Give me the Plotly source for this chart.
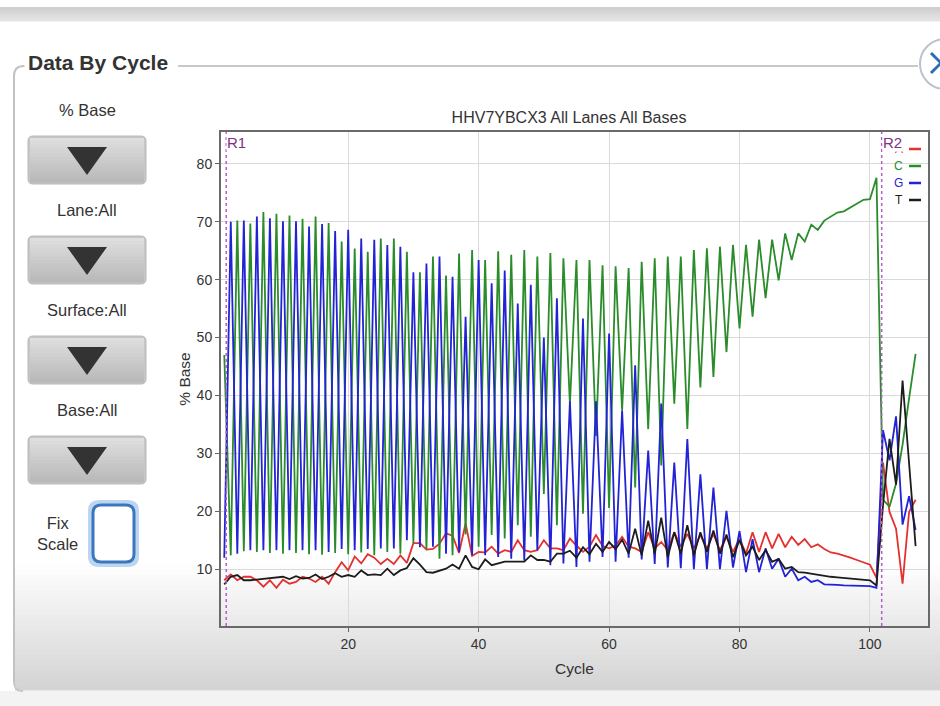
import plotly.graph_objects as go

W, H = 940, 706


def px(x):
    return x / W


def py(y):
    return 1 - y / H


# ---------------- data ----------------
cycles = list(range(1, 108))

base_A = [8.1, 9.1, 8.1, 8.7, 8.7, 8.1, 7.0, 8.1, 6.8, 8.2,
          7.5, 7.8, 8.7, 8.4, 7.8, 8.7, 7.5, 9.5, 11.2, 9.8,
          12.2, 11.0, 12.6, 12.0, 10.9, 11.8, 10.9, 12.4, 11.1, 14.5,
          14.5, 13.4, 13.5, 14.4, 16.2, 15.8, 12.8, 17.9, 12.3, 13.0,
          12.9, 13.9, 12.7, 13.3, 13.0, 15.0, 13.3, 13.0, 13.3, 15.0,
          13.6, 13.6, 13.3, 15.3, 14.1, 13.0, 13.9, 15.9, 14.0, 13.6,
          14.1, 15.6, 13.9, 13.6, 13.0, 16.4, 13.6, 14.7, 13.3, 16.4,
          13.9, 16.1, 13.6, 15.9, 13.6, 16.1, 13.3, 15.6, 13.0, 15.3,
          12.7, 16.4, 13.0, 16.4, 13.6, 16.1, 13.8, 15.6, 14.2, 15.2,
          13.8, 14.3, 13.5, 12.9, 12.7, 12.4, 12.0, 11.6, 11.2, 10.8,
          8.5, 28.4, 19.9, 17.0, 7.5, 19.9, 22.0]

base_C = [47.0, 12.4, 70.2, 13.1, 69.7, 13.0, 71.7, 12.8, 71.4, 12.7,
          71.1, 12.8, 70.5, 12.6, 70.9, 12.5, 69.8, 12.8, 66.6, 12.6,
          65.4, 12.9, 64.8, 12.4, 67.1, 13.0, 67.1, 12.7, 64.8, 14.5,
          61.3, 13.4, 64.0, 11.8, 60.7, 12.4, 64.5, 16.0, 65.1, 13.9,
          63.4, 15.9, 64.9, 15.3, 64.3, 17.6, 65.1, 15.6, 64.0, 23.0,
          64.6, 17.6, 63.7, 38.5, 63.4, 19.6, 63.4, 33.0, 62.5, 20.6,
          62.3, 37.4, 62.0, 24.1, 63.1, 34.2, 63.7, 27.9, 64.0, 38.6,
          64.0, 34.2, 65.1, 41.4, 65.4, 43.2, 65.7, 47.5, 66.0, 51.6,
          66.0, 53.6, 66.9, 56.8, 66.9, 59.9, 68.0, 63.4, 68.0, 66.6,
          69.5, 68.6, 70.2, 70.9, 71.6, 71.8, 72.5, 73.1, 73.8, 73.9,
          77.6, 22.0, 20.8, 24.8, 31.5, 39.5, 47.2]

base_G = [12.0, 70.0, 12.7, 70.2, 13.3, 70.9, 13.3, 70.6, 13.3, 70.1,
          13.3, 70.1, 13.3, 69.2, 13.3, 69.6, 13.0, 68.4, 13.5, 68.6,
          13.3, 67.1, 13.5, 66.9, 13.6, 66.0, 13.6, 65.7, 15.0, 61.3,
          13.8, 62.8, 13.9, 64.0, 12.7, 60.5, 13.0, 53.6, 12.4, 63.4,
          12.4, 59.4, 12.1, 61.6, 11.8, 55.9, 11.5, 59.1, 13.3, 50.0,
          10.7, 56.8, 11.0, 39.0, 10.4, 53.3, 11.3, 39.0, 12.1, 50.7,
          11.3, 37.4, 12.0, 45.2, 11.7, 30.5, 10.9, 38.6, 10.3, 28.4,
          10.2, 32.5, 10.0, 26.4, 10.0, 24.1, 10.0, 20.1, 10.3, 16.6,
          9.5, 15.2, 9.5, 13.6, 10.1, 11.8, 8.7, 10.1, 8.1, 8.7,
          7.8, 8.1, 7.4, 7.4, 7.3, 7.2, 7.2, 7.1, 7.1, 7.1,
          6.8, 34.0, 28.8, 36.4, 17.7, 22.6, 16.8]

base_T = [7.4, 8.7, 9.0, 8.1, 8.1, 8.2, 8.3, 8.4, 8.5, 8.7,
          8.3, 8.8, 8.4, 8.5, 9.1, 8.3, 8.7, 9.3, 8.7, 9.0,
          8.7, 9.8, 9.0, 9.1, 9.0, 10.1, 9.0, 9.8, 10.2, 11.9,
          10.8, 9.5, 9.4, 9.8, 10.1, 10.8, 10.1, 12.4, 10.4, 10.0,
          11.7, 10.7, 11.0, 11.3, 11.3, 11.3, 11.3, 12.4, 11.6, 11.6,
          11.3, 12.7, 12.7, 13.2, 12.0, 13.8, 12.6, 14.4, 13.0, 14.7,
          13.5, 15.1, 12.7, 17.0, 12.4, 18.4, 12.7, 18.9, 12.1, 16.4,
          12.7, 17.6, 12.4, 16.4, 13.0, 16.7, 12.7, 16.0, 12.1, 15.0,
          12.4, 13.9, 11.6, 13.3, 11.3, 11.8, 10.1, 10.4, 9.5, 9.4,
          9.2, 9.0, 8.8, 8.7, 8.6, 8.5, 8.4, 8.3, 8.2, 8.1,
          7.2, 21.0, 32.5, 24.6, 42.6, 28.5, 14.0]

series_names = ["A", "C", "G", "T"]
series_values = [base_A, base_C, base_G, base_T]
series_colors = ["#e3312f", "#2b8c2b", "#2323d6", "#1c1c1c"]

read_marks = [1.3, 101.8]
read_labels = ["R1", "R2"]

x_ticks = [20, 40, 60, 80, 100]
y_ticks = [10, 20, 30, 40, 50, 60, 70, 80]

chart_title = "HHV7YBCX3 All Lanes All Bases"
control_labels = ["% Base", "Lane:All", "Surface:All", "Base:All"]

# ---------------- styling ----------------
FONT = "Liberation Sans, Arial, sans-serif"
TXT = "#333333"

PLOT_L, PLOT_R, PLOT_T, PLOT_B = 221, 928, 132, 626


def hex2rgb(h):
    h = h.lstrip("#")
    return tuple(int(h[i:i + 2], 16) for i in (0, 2, 4))


def mix(c0, c1, t):
    a, b = hex2rgb(c0), hex2rgb(c1)
    return "rgb(%d,%d,%d)" % tuple(round(a[i] + (b[i] - a[i]) * t) for i in range(3))


shapes = []


def rect(x0, y0, x1, y1, fill, layer="below", line_color=None, line_width=0):
    shapes.append(dict(type="rect", xref="paper", yref="paper",
                       x0=px(x0), x1=px(x1), y0=py(y1), y1=py(y0),
                       fillcolor=fill, layer=layer,
                       line=dict(width=line_width, color=line_color or fill)))


def vgrad(x0, y0, x1, y1, c0, c1, n=20, layer="below"):
    step = (y1 - y0) / n
    for i in range(n):
        rect(x0, y0 + i * step, x1, y0 + (i + 1) * step + 0.6,
             mix(c0, c1, i / (n - 1)), layer=layer)


def rrect_path(x0, y0, x1, y1, r):
    return ("M {a},{b} L {c},{b} Q {d},{b} {d},{e} L {d},{f} Q {d},{g} {c},{g} "
            "L {a},{g} Q {h},{g} {h},{f} L {h},{e} Q {h},{b} {a},{b} Z").format(
        a=px(x0 + r), b=py(y0), c=px(x1 - r), d=px(x1), e=py(y0 + r),
        f=py(y1 - r), g=py(y1), h=px(x0))


def path(p, fill=None, line_color=None, line_width=0, layer="below"):
    d = dict(type="path", xref="paper", yref="paper", path=p, layer=layer,
             line=dict(width=line_width, color=line_color or "rgba(0,0,0,0)"))
    if fill:
        d["fillcolor"] = fill
    shapes.append(d)


# top strip
vgrad(0, 7, 940, 21, "#cfcfcf", "#e4e4e4", n=7)
# panel lower gradient
vgrad(15, 560, 940, 690, "#ffffff", "#d4d4d4", n=26)
rect(0, 691, 940, 706, "#f3f3f3")
# panel frame
path("M {},{} L {},{} Q {},{} {},{} L {},{}".format(
    px(14), py(682), px(14), py(76), px(14), py(66), px(24), py(66), px(27), py(66)),
    line_color="#c2c2c2", line_width=2)
path("M {},{} Q {},{} {},{}".format(px(14), py(682), px(14), py(691), px(23), py(691)),
     line_color="#c8c8c8", line_width=2)
path("M {},{} L {},{}".format(px(178), py(66), px(918), py(66)),
     line_color="#c8c8c8", line_width=2)

# close button (partly off-page)
shapes.append(dict(type="circle", xref="paper", yref="paper",
                   x0=px(920), x1=px(970), y0=py(89), y1=py(39),
                   fillcolor="#ffffff", line=dict(color="#b9c3cf", width=2), layer="below"))
path("M {},{} L {},{}".format(px(931), py(53), px(951), py(73)), line_color="#2e6cb3", line_width=3)
path("M {},{} L {},{}".format(px(931), py(73), px(951), py(53)), line_color="#2e6cb3", line_width=3)

# dropdown buttons
for by in [136, 236, 336, 436]:
    path(rrect_path(28, by, 146, by + 48, 5), fill="#c6c6c6", line_color="#bababa", line_width=1)
    vgrad(30, by + 2, 144, by + 46, "#dedede", "#b9b9b9", n=14)
    path("M {},{} L {},{} L {},{} Z".format(px(67), py(by + 11), px(107), py(by + 11),
                                              px(87), py(by + 39)), fill="#333333")

# "Fix Scale" checkbox
path(rrect_path(88, 500, 139, 567, 11), fill="#bcd5f0")
path(rrect_path(93, 505, 134, 562, 8), fill="#ffffff", line_color="#3b77bd", line_width=3)

# read boundary markers
for xm in read_marks:
    shapes.append(dict(type="line", xref="x", yref="paper", x0=xm, x1=xm,
                       y0=py(PLOT_B), y1=py(PLOT_T), layer="above",
                       line=dict(color="#b65cc6", width=1.5, dash="dot")))

annotations = []


def label(x, y, text, size, color=TXT, bold=False, family=FONT, xanchor="center", **kw):
    annotations.append(dict(xref="paper", yref="paper", x=px(x), y=py(y), text=text,
                            showarrow=False, xanchor=xanchor, yanchor="middle",
                            font=dict(family=family, size=size, color=color,
                                      weight="bold" if bold else "normal"),
                            **kw))


label(98, 63, "Data By Cycle", 21, bold=True, bgcolor="#ffffff", borderpad=3)
for i, t in enumerate(control_labels):
    label(87, 110 + 100 * i, t, 16.5)
label(57.5, 533, "Fix<br>Scale", 16.5)

# custom legend (text before swatch)
for i, (nm, col) in enumerate(zip(series_names, series_colors)):
    yy = 149 + 17 * i
    label(905, yy, nm, 12, color=col, xanchor="right")
    path("M {},{} L {},{}".format(px(909), py(yy), px(921), py(yy)),
         line_color=col, line_width=2.5, layer="above")

# R1 / R2 labels
for xm, t in zip(read_marks, read_labels):
    annotations.append(dict(xref="x", yref="paper", x=xm, y=py(143), text=t,
                            showarrow=False, xanchor="left", yanchor="middle",
                            xshift=0, borderpad=0, bgcolor="#ffffff",
                            font=dict(family=FONT, size=15, color="#7e2f88")))

fig = go.Figure()
for nm, vals, col in zip(series_names, series_values, series_colors):
    fig.add_trace(go.Scatter(x=cycles, y=vals, mode="lines", name=nm,
                             line=dict(color=col, width=1.8), showlegend=False))

fig.update_layout(
    width=W, height=H,
    margin=dict(l=0, r=0, t=0, b=0),
    paper_bgcolor="#ffffff", plot_bgcolor="#ffffff",
    shapes=shapes, annotations=annotations,
    title=dict(text=chart_title, x=px(569), y=py(117), xanchor="center", yanchor="middle",
               xref="paper", yref="paper",
               font=dict(family=FONT, size=16, color=TXT)),
    xaxis=dict(domain=[px(PLOT_L), px(PLOT_R)], range=[0.5, 108.9],
               tickvals=x_ticks, ticks="outside", ticklen=4, tickcolor="#666",
               showgrid=True, gridcolor="#dadada", gridwidth=1, zeroline=False,
               showline=True, mirror=True, linecolor="#6a6a6a", linewidth=2,
               tickfont=dict(family=FONT, size=14, color=TXT),
               title=dict(text="Cycle", standoff=12,
                          font=dict(family=FONT, size=15.5, color=TXT)),
               automargin=False, fixedrange=True),
    yaxis=dict(domain=[py(PLOT_B), py(PLOT_T)], range=[0.2, 85.5],
               tickvals=y_ticks, ticks="outside", ticklen=4, tickcolor="#666",
               showgrid=True, gridcolor="#dadada", gridwidth=1, zeroline=False,
               showline=True, mirror=True, linecolor="#6a6a6a", linewidth=2,
               tickfont=dict(family=FONT, size=14, color=TXT),
               title=dict(text="% Base", standoff=2,
                          font=dict(family=FONT, size=15.5, color=TXT)),
               automargin=False, fixedrange=True),
    showlegend=False,
)

fig.write_html("out.html")
